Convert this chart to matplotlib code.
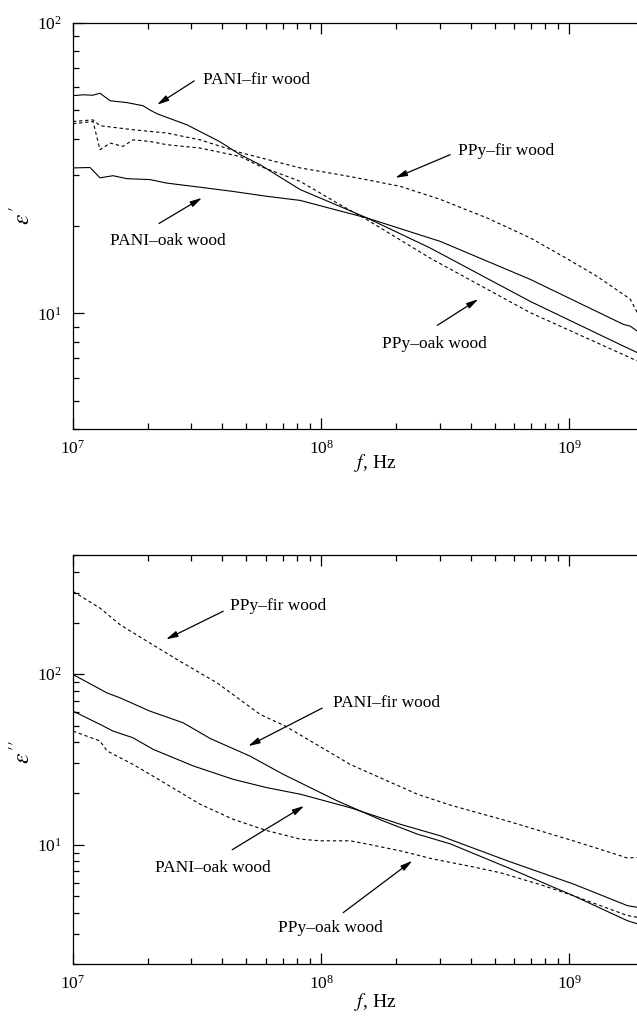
import numpy as np
import matplotlib
matplotlib.use("Agg")
from matplotlib import pyplot as plt
from matplotlib.ticker import LogLocator, NullFormatter

plt.rcParams["font.family"] = ["Liberation Serif", "DejaVu Serif"]
plt.rcParams["mathtext.fontset"] = "stix"

# ---------------------------------- DATA ----------------------------------
# top panel: real part eps' vs frequency (Hz)
f_pani_fir_re = [1.0e7, 1.10e7, 1.20e7, 1.285e7, 1.41e7, 1.65e7, 1.915e7, 2.04e7, 2.18e7, 2.88e7,
                 3.91e7, 4.72e7, 5.68e7, 8.23e7, 1.273e8, 1.533e8, 2.75e8, 6.96e8, 1.651e9, 1.88e9]
pani_fir_re = [56.2, 56.6, 56.4, 57.3, 54.0, 53.2, 51.9, 50.2, 48.7, 44.6,
               39.0, 35.2, 32.5, 26.7, 22.8, 21.3, 16.8, 11.0, 7.72, 7.33]

f_pani_oak_re = [1.0e7, 1.171e7, 1.285e7, 1.45e7, 1.65e7, 2.04e7, 2.39e7, 3.25e7, 4.42e7, 6.06e7,
                 8.23e7, 1.273e8, 1.533e8, 3.02e8, 6.96e8, 1.651e9, 1.76e9, 1.88e9]
pani_oak_re = [31.7, 31.8, 29.3, 29.8, 29.1, 28.9, 28.1, 27.2, 26.3, 25.3,
               24.5, 22.2, 21.3, 17.7, 13.1, 9.17, 9.04, 8.69]

f_ppy_fir_re = [1.0e7, 1.204e7, 1.285e7, 1.745e7, 2.39e7, 3.25e7, 4.72e7, 8.23e7, 1.309e8, 2.08e8,
                3.02e8, 4.67e8, 6.96e8, 9.46e8, 1.297e9, 1.76e9, 1.88e9]
ppy_fir_re = [45.8, 46.4, 44.3, 42.9, 41.8, 39.6, 35.8, 31.7, 29.6, 27.4,
              24.7, 21.3, 18.2, 15.7, 13.4, 11.2, 10.06]

f_ppy_oak_re = [1.0e7, 1.204e7, 1.285e7, 1.41e7, 1.59e7, 1.745e7, 2.04e7, 2.39e7, 3.25e7, 4.72e7,
                5.68e7, 8.23e7, 1.16e8, 1.533e8, 2.75e8, 6.96e8, 1.88e9]
ppy_oak_re = [45.0, 45.8, 36.6, 38.6, 37.6, 39.6, 39.1, 38.1, 37.1, 34.7,
              32.1, 28.5, 24.0, 21.0, 15.5, 10.06, 6.86]

# bottom panel: imaginary part eps'' vs frequency (Hz)
f_ppy_fir_im = [1.0e7, 1.285e7, 1.547e7, 2.04e7, 2.70e7, 3.81e7, 5.68e7, 7.16e7, 1.309e8, 2.44e8,
                3.31e8, 5.62e8, 1.038e9, 1.606e9, 1.713e9, 1.88e9]
ppy_fir_im = [305.8, 244, 195.3, 152.4, 119.1, 88.9, 58.1, 49.7, 29.6, 19.8,
              17.1, 13.8, 10.55, 8.63, 8.36, 8.43]

f_pani_fir_im = [1.0e7, 1.371e7, 1.547e7, 2.04e7, 2.78e7, 3.57e7, 5.17e7, 7.03e7, 1.16e8, 1.778e8,
                 2.44e8, 3.31e8, 5.62e8, 1.038e9, 1.713e9, 1.88e9]
pani_fir_im = [99.6, 77.7, 72.7, 60.8, 51.9, 42.0, 33.1, 25.9, 18.1, 13.8,
               11.55, 10.13, 7.37, 5.03, 3.59, 3.44]

f_pani_oak_im = [1.0e7, 1.285e7, 1.45e7, 1.745e7, 2.10e7, 3.05e7, 4.42e7, 6.06e7, 8.23e7, 1.309e8,
                 2.08e8, 3.02e8, 5.62e8, 1.038e9, 1.713e9, 1.88e9]
pani_oak_im = [60.8, 50.8, 46.4, 42.4, 36.3, 29.0, 24.2, 21.6, 19.8, 16.5,
               13.2, 11.29, 8.06, 5.89, 4.40, 4.30]

f_ppy_oak_im = [1.0e7, 1.285e7, 1.371e7, 1.745e7, 2.04e7, 2.39e7, 3.25e7, 4.42e7, 6.06e7, 8.23e7,
                9.9e7, 1.309e8, 1.533e8, 2.08e8, 2.83e8, 3.88e8, 5.27e8, 7.64e8, 1.038e9, 1.713e9, 1.88e9]
ppy_oak_im = [46.4, 40.6, 35.5, 29.6, 25.9, 22.6, 17.3, 14.1, 12.1, 10.8,
              10.55, 10.55, 10.1, 9.22, 8.25, 7.54, 6.86, 5.84, 5.03, 3.85, 3.76]

# labels: (text, text pos, arrow start, arrow tip) in data coords
labels_re = [
    ("PANI\u2013fir wood", (3.34e7, 63.7), (3.08e7, 63.2), (2.18e7, 52.3)),
    ("PPy\u2013fir wood", (3.57e8, 36.3), (3.31e8, 35.2), (1.99e8, 29.3)),
    ("PANI\u2013oak wood", (1.41e7, 17.8), (2.22e7, 20.4), (3.31e7, 25.0)),
    ("PPy\u2013oak wood", (1.76e8, 7.83), (2.94e8, 9.10), (4.30e8, 11.2)),
]
labels_im = [
    ("PPy\u2013fir wood", (4.30e7, 250), (4.03e7, 234), (2.37e7, 160)),
    ("PANI\u2013fir wood", (1.118e8, 67.7), (1.01e8, 63.3), (5.08e7, 37.9)),
    ("PANI\u2013oak wood", (2.14e7, 7.34), (4.38e7, 9.35), (8.54e7, 16.9)),
    ("PPy\u2013oak wood", (6.71e7, 3.27), (1.227e8, 4.00), (2.33e8, 8.06)),
]

# ---------------------------------- PLOT ----------------------------------
W, H = 637, 1018
fig = plt.figure(figsize=(W / 100, H / 100), dpi=100)
ax1 = fig.add_axes([73 / W, 1 - 429 / H, 571 / W, 406 / H])
ax2 = fig.add_axes([73 / W, 1 - 964 / H, 571 / W, 409 / H])

solid = dict(color="black", lw=0.8)
dash = dict(color="black", lw=0.8, dashes=(3, 2.5))

ax1.plot(f_pani_fir_re, pani_fir_re, **solid)
ax1.plot(f_pani_oak_re, pani_oak_re, **solid)
ax1.plot(f_ppy_fir_re, ppy_fir_re, **dash)
ax1.plot(f_ppy_oak_re, ppy_oak_re, **dash)

ax2.plot(f_ppy_fir_im, ppy_fir_im, **dash)
ax2.plot(f_pani_fir_im, pani_fir_im, **solid)
ax2.plot(f_pani_oak_im, pani_oak_im, **solid)
ax2.plot(f_ppy_oak_im, ppy_oak_im, **dash)

for ax, labels in ((ax1, labels_re), (ax2, labels_im)):
    for txt, tpos, start, tip in labels:
        ax.text(tpos[0], tpos[1], txt, fontsize=12.5, ha="left", va="center")
        ax.annotate("", xy=tip, xytext=start,
                    arrowprops=dict(arrowstyle="-|>,head_length=0.7,head_width=0.18",
                                    color="black", lw=0.9, shrinkA=0, shrinkB=0))

ax1.set_ylim(4, 100)
ax2.set_ylim(2, 500)
for ax in (ax1, ax2):
    ax.set_xscale("log")
    ax.set_yscale("log")
    ax.set_xlim(1e7, 2e9)
    ax.xaxis.set_minor_locator(LogLocator(base=10, subs=np.arange(2, 10)))
    ax.yaxis.set_minor_locator(LogLocator(base=10, subs=np.arange(2, 10)))
    ax.xaxis.set_minor_formatter(NullFormatter())
    ax.yaxis.set_minor_formatter(NullFormatter())
    ax.tick_params(which="both", direction="in", top=True, right=False, labelsize=12.5, width=0.9)
    ax.tick_params(which="major", length=8, pad=8)
    ax.tick_params(which="minor", length=4.5)
    for s in ax.spines.values():
        s.set_linewidth(0.9)

fig.text(375 / W, 1 - 463 / H, "$f$, Hz", fontsize=14, ha="center", va="center")
fig.text(375 / W, 1 - 1002 / H, "$f$, Hz", fontsize=14, ha="center", va="center")
fig.text(22 / W, 1 - 215 / H, "$\\varepsilon\\,'$", fontsize=17, ha="center", va="center", rotation=90)
fig.text(22 / W, 1 - 752 / H, "$\\varepsilon\\,''$", fontsize=17, ha="center", va="center", rotation=90)

fig.savefig("out.png", dpi=100)
